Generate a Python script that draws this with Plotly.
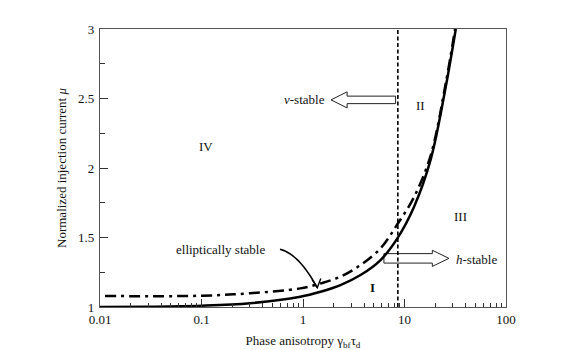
import plotly.graph_objects as go

# Solid boundary between region I and regions II/III
phase_aniso_solid = [0.01, 0.03, 0.1, 0.3, 0.94, 1.49, 2.34, 3.69, 5.81, 8.5, 12.4, 18.1, 25.5, 32.0]
mu_solid = [1.0, 1.002, 1.009, 1.027, 1.074, 1.11, 1.158, 1.23, 1.338, 1.494, 1.72, 2.06, 2.585, 3.0]

# Dash-dot boundary of the elliptically stable region
phase_aniso_ell = [0.0112, 0.1, 0.3, 0.94, 1.49, 2.34, 3.69, 5.81, 8.5, 12.4, 18.1, 25.5, 31.5]
mu_ell = [1.079, 1.081, 1.099, 1.134, 1.17, 1.218, 1.302, 1.422, 1.595, 1.79, 2.09, 2.61, 3.0]

# v-stable / h-stable crossover
crossover_aniso = 8.6
crossover_mu = [1.0, 3.0]

x_tick_vals = [0.01, 0.1, 1, 10, 100]
x_tick_text = ["0.01", "0.1", "1", "10", "100"]
y_tick_vals = [1, 1.5, 2, 2.5, 3]
y_tick_text = ["1", "1.5", "2", "2.5", "3"]

x_minor = [m * 10.0 ** e for e in range(-2, 2) for m in range(2, 10)]
y_minor = [1.25, 1.75, 2.25, 2.75]

FONT = "Liberation Serif"
W, H = 569, 350
L, R, T, B = 100, 63, 29, 43


def to_paper(px, py):
    """Convert page pixel coordinates to paper fractions of the plot area."""
    return (px - L) / (W - L - R), (H - B - py) / (H - T - B)


def hollow_arrow(x_tail, x_base, x_tip, mu_c, shaft_half, head_half):
    xs = [x_tail, x_base, x_base, x_tip, x_base, x_base, x_tail, x_tail]
    ys = [mu_c + shaft_half, mu_c + shaft_half, mu_c + head_half, mu_c,
          mu_c - head_half, mu_c - shaft_half, mu_c - shaft_half, mu_c + shaft_half]
    return go.Scatter(x=xs, y=ys, mode="lines", fill="toself", fillcolor="white",
                      line=dict(color="#222", width=1), hoverinfo="skip", showlegend=False)


fig = go.Figure()

# block arrows
fig.add_trace(hollow_arrow(8.17, 2.72, 1.89, 2.49, 0.027, 0.058))
fig.add_trace(hollow_arrow(6.27, 18.8, 27.4, 1.35, 0.034, 0.058))

fig.add_trace(go.Scatter(x=phase_aniso_ell, y=mu_ell, mode="lines", line_shape="spline",
                         line=dict(color="black", width=2.5, dash="11px,5px,3px,5px"),
                         showlegend=False))
fig.add_trace(go.Scatter(x=phase_aniso_solid, y=mu_solid, mode="lines", line_shape="spline",
                         line=dict(color="black", width=2.5), showlegend=False))
fig.add_trace(go.Scatter(x=[crossover_aniso, crossover_aniso], y=crossover_mu, mode="lines",
                         line=dict(color="black", width=1.6, dash="4px,2.5px"), showlegend=False))

# curved pointer towards the elliptically stable band
sx, sy = to_paper(280, 249.3)
cx, cy = to_paper(298.6, 253.5)
ex, ey = to_paper(317.3, 287.7)
a1x, a1y = to_paper(312.0, 279.5)
a2x, a2y = to_paper(320.8, 278.6)
shapes = [
    dict(type="path", xref="paper", yref="paper",
         path=f"M {sx},{sy} Q {cx},{cy} {ex},{ey}", line=dict(color="black", width=1.6)),
    dict(type="path", xref="paper", yref="paper",
         path=f"M {a1x},{a1y} L {ex},{ey} L {a2x},{a2y}", line=dict(color="black", width=1.4)),
]

text_font = dict(family=FONT, size=13, color="#111")
annotations = [
    dict(x=-0.957, y=2.153, text="IV"),
    dict(x=1.159, y=2.453, text="II"),
    dict(x=1.554, y=1.650, text="III"),
    dict(x=0.682, y=1.139, text="<b>I</b>"),
    dict(x=-0.815, y=1.415, text="elliptically stable"),
    dict(x=0.236, y=2.496, text="<i>v</i>-stable", xanchor="right"),
    dict(x=1.489, y=1.343, text="<i>h</i>-stable", xanchor="left"),
]
for a in annotations:
    a.update(xref="x", yref="y", showarrow=False, font=text_font)
    a.setdefault("xanchor", "center")

fig.update_layout(
    width=W, height=H,
    margin=dict(l=L, r=R, t=T, b=B),
    paper_bgcolor="white", plot_bgcolor="white",
    font=dict(family=FONT, size=13, color="#111"),
    shapes=shapes, annotations=annotations,
    xaxis=dict(
        type="log", range=[-2, 2], automargin=False,
        tickvals=x_tick_vals, ticktext=x_tick_text,
        ticks="inside", ticklen=8, tickcolor="#333", tickwidth=1,
        showline=True, linecolor="#555", linewidth=1.3, mirror=True,
        showgrid=False, zeroline=False, ticklabelstandoff=0,
        minor=dict(tickvals=x_minor, ticks="inside", ticklen=4, tickcolor="#333", showgrid=False),
        tickfont=dict(family=FONT, size=13, color="#111"),
        title=dict(text="Phase anisotropy γ<sub>bf</sub>τ<sub>d</sub>",
                   font=dict(family=FONT, size=13, color="#111"), standoff=14),
    ),
    yaxis=dict(
        range=[1, 3], automargin=False,
        tickvals=y_tick_vals, ticktext=y_tick_text,
        ticks="inside", ticklen=8, tickcolor="#333", tickwidth=1,
        showline=True, linecolor="#555", linewidth=1.3, mirror=True,
        showgrid=False, zeroline=False, ticklabelstandoff=2,
        minor=dict(tickvals=y_minor, ticks="inside", ticklen=5, tickcolor="#333", showgrid=False),
        tickfont=dict(family=FONT, size=13, color="#111"),
        title=dict(text="Normalized injection current <i>μ</i>",
                   font=dict(family=FONT, size=13, color="#111"), standoff=8),
    ),
)

fig.write_html("out.html")
